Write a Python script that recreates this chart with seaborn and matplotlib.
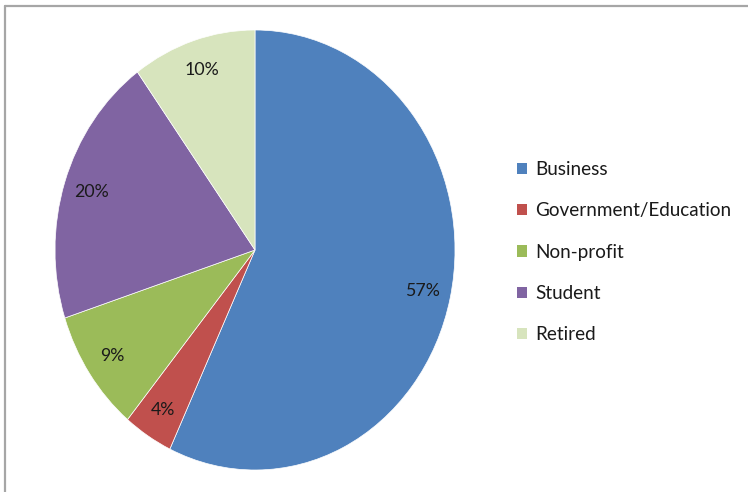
import matplotlib
matplotlib.use("Agg")
import matplotlib.pyplot as plt
from matplotlib.lines import Line2D
from matplotlib.patches import Patch
import numpy as np
import seaborn as sns

categories = ["Business", "Government/Education", "Non-profit", "Student", "Retired"]
values = [57, 4, 9, 20, 10]
pct_labels = ["57%", "4%", "9%", "20%", "10%"]
colors = ["#4F81BD", "#C0504D", "#9BBB59", "#8064A2", "#D7E4BD"]

sns.set_theme(style="white")
plt.rcParams['font.family'] = ['Lato', 'DejaVu Sans']

W, H = 748, 492
fig = plt.figure(figsize=(W / 100, H / 100), dpi=100)
fig.patch.set_facecolor("white")

cx, cy, rx, ry = 255, 250, 200, 220
ax = fig.add_axes([(cx - rx) / W, 1 - (cy + ry) / H, 2 * rx / W, 2 * ry / H])
wedges, _ = ax.pie(values, colors=colors, startangle=90, counterclock=False,
                   wedgeprops=dict(linewidth=0.5, edgecolor="white"), radius=1)
ax.set_aspect("auto")
ax.set_xlim(-1, 1)
ax.set_ylim(-1, 1)
ax.axis("off")

start = 90.0
for v, lab in zip(values, pct_labels):
    ang = np.deg2rad(start - v / 100 * 360 / 2)
    start -= v / 100 * 360
    ax.text(0.86 * np.cos(ang), 0.86 * np.sin(ang), lab, ha="center", va="center",
            fontsize=12.8, color="#1a1a1a")

handles = [Patch(facecolor=c, edgecolor="none") for c in colors]
fig.legend(handles, categories, loc="upper left",
           bbox_to_anchor=(517 / W, 1 - 161 / H), frameon=False,
           fontsize=13.6, handlelength=0.55, handleheight=0.55, handletextpad=0.4,
           labelspacing=1.29, labelcolor="#1a1a1a", borderpad=0, borderaxespad=0)

# chart frame (top and left visible)
fig.add_artist(Line2D([4.5 / W, 1.0], [1 - 6 / H, 1 - 6 / H], color="#a6a6a6", lw=1.6,
                      transform=fig.transFigure))
fig.add_artist(Line2D([4.5 / W, 4.5 / W], [0, 1 - 6 / H], color="#a6a6a6", lw=1.6,
                      transform=fig.transFigure))

fig.savefig("out.png", dpi=100, facecolor="white")
